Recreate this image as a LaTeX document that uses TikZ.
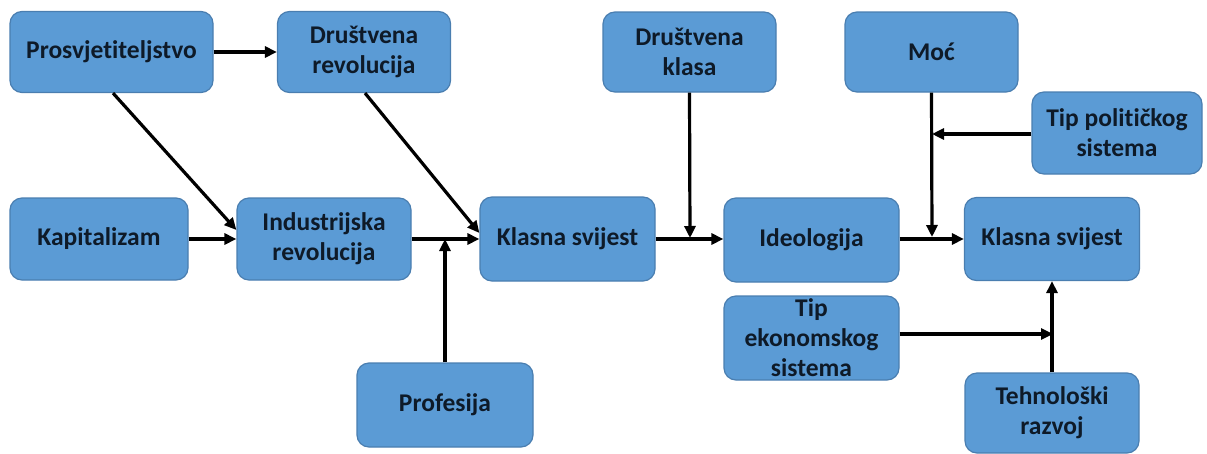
\documentclass[tikz,border=0pt]{standalone}
\usepackage{fontspec}
\setmainfont[Ligatures={NoCommon}]{Carlito}
\usetikzlibrary{arrows.meta,calc}
\definecolor{boxfill}{HTML}{5B9BD5}
\definecolor{boxline}{HTML}{4A7EB0}
\definecolor{txt}{HTML}{0E1A28}
\tikzset{
  box/.style={draw=boxline, line width=1.2pt, fill=boxfill, rounded corners=12pt,
    align=center, text=txt, font=\fontsize{25.5}{30}\selectfont\bfseries, inner sep=0pt},
  conn/.style={line width=3.2pt, -{Triangle[length=12pt,width=11pt]}},
}
\begin{document}
\begin{tikzpicture}[x=1pt,y=-1pt]
\useasboundingbox (0,0) rectangle (1207,453);
\node[box, minimum width=203pt, minimum height=81pt] (pros) at (111.5,52) {Prosvjetiteljstvo};
\node[box, minimum width=173pt, minimum height=81pt] (drev) at (364,52) {Društvena\\revolucija};
\node[box, minimum width=178pt, minimum height=82pt] (kap) at (99,239) {Kapitalizam};
\node[box, minimum width=174pt, minimum height=82pt] (ind) at (324,239) {Industrijska\\revolucija};
\node[box, minimum width=175pt, minimum height=84pt] (ks1) at (567.5,239) {Klasna svijest};
\node[box, minimum width=173pt, minimum height=80pt] (dkl) at (689.5,52) {Društvena\\klasa};
\node[box, minimum width=173pt, minimum height=80pt] (moc) at (931.5,52) {Moć};
\node[box, minimum width=170pt, minimum height=82pt] (tps) at (1117,133) {Tip političkog\\sistema};
\node[box, minimum width=175pt, minimum height=84pt] (ideo) at (811.5,240) {Ideologija};
\node[box, minimum width=175pt, minimum height=83pt] (ks2) at (1052,239) {Klasna svijest};
\node[box, minimum width=175pt, minimum height=84pt] (tes) at (811.5,338) {Tip\\ekonomskog\\sistema};
\node[box, minimum width=174pt, minimum height=80pt] (teh) at (1052,413) {Tehnološki\\razvoj};
\node[box, minimum width=176pt, minimum height=84pt] (prof) at (445,405) {Profesija};

\coordinate (jprof) at (445,239);
\coordinate (jdkl) at (690,238);
\coordinate (jmoc) at (932,237);
\coordinate (jtps) at (932,134);
\coordinate (jtes) at (1053,334);

\draw[conn] (pros.east) -- (drev.west);
\draw[conn] ($(pros.south)+(1.5,0)$) -- ($(ind.west)+(0,-9)$);
\draw[conn] ($(drev.south)+(1,0)$) -- ($(ks1.west)+(0,-6)$);
\draw[conn] (kap.east) -- (ind.west);
\draw[conn] (ind.east) -- (ks1.west);
\draw[conn] (prof.north) -- (jprof);
\draw[conn] (ks1.east) -- (ideo.west |- ks1.east);
\draw[conn] (dkl.south) -- (jdkl);
\draw[conn] (ideo.east |- ks2.west) -- (ks2.west);
\draw[conn] (moc.south) -- (jmoc);
\draw[conn] (tps.west |- jtps) -- (jtps);
\draw[conn] (tes.east |- jtes) -- (jtes);
\draw[conn] (teh.north) -- (ks2.south);
\end{tikzpicture}
\end{document}
